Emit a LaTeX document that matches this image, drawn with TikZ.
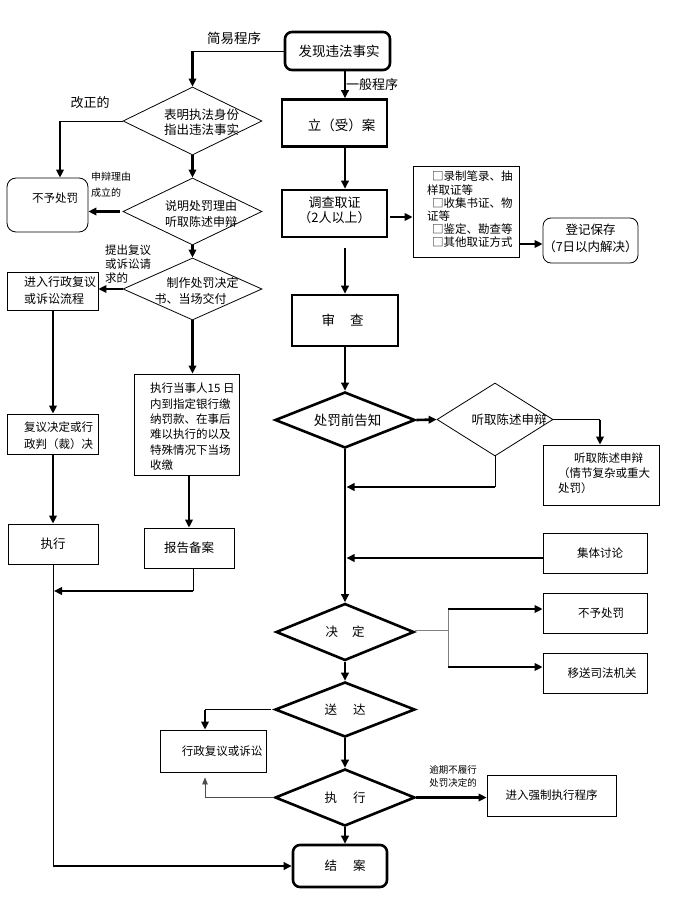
\documentclass[tikz,border=0pt]{standalone}
\usepackage{fontspec}
\setmainfont{Noto Sans CJK SC}
\usetikzlibrary{arrows.meta,shapes.geometric}
\newcommand\fA{\fontsize{13.5}{16}\selectfont}
\newcommand\fB{\fontsize{12.5}{15.5}\selectfont}
\newcommand\fC{\fontsize{11.5}{15}\selectfont}
\newcommand\fD{\fontsize{9.5}{13}\selectfont}
\begin{document}
\begin{tikzpicture}[x=1pt,y=-1pt,
  thk/.style={line width=2.6pt},
  thn/.style={line width=0.8pt},
  arr/.style={-{Triangle[length=8pt,width=7.5pt]}},
  tbox/.style={draw,thk,inner sep=0pt,align=center},
  nbox/.style={draw,thn,inner sep=0pt,align=center},
  tdia/.style={draw,diamond,thk,inner sep=0pt},
  ndia/.style={draw,diamond,thn,inner sep=0pt},
  lab/.style={inner sep=0pt,align=center,font=\fB},
  txt/.style={inner sep=0pt,align=left}]
\path[fill=white] (0,0) rectangle (675,917);
\useasboundingbox (0,0) rectangle (675,917);
\coordinate (ax) at (345,0);
\coordinate (lx) at (53,0);
% ---------- right column nodes ----------
\node[tbox,rounded corners=7pt,minimum width=105pt,minimum height=38pt,
  label={[lab,font=\fA,xshift=1.5pt]center:发现违法事实}] (find) at (337.5,51) {};
\node[tbox,minimum width=105pt,minimum height=47pt,
  label={[lab,font=\fA,xshift=7pt,yshift=-2pt]center:立（受）案}] (lian) at (334.5,123) {};
\node[tbox,minimum width=105pt,minimum height=47pt,
  label={[lab,font=\fontsize{13}{15}\selectfont,yshift=3pt]center:调查取证\\（2人以上）}] (dc) at (334.5,213.5) {};
\node[nbox,minimum width=106pt,minimum height=91pt] (ev) at (466,211.5) {};
\node[txt,anchor=north west,font=\fontsize{11.5}{13.2}\selectfont] (evt) at (427,171)
  {\hspace{5pt}□录制笔录、抽\\样取证等\\\hspace{5pt}□收集书证、物\\证等\\\hspace{5pt}□鉴定、勘查等\\\hspace{5pt}□其他取证方式};
\node[nbox,rounded corners=8pt,minimum width=95pt,minimum height=45pt,
  label={[lab,font=\fontsize{12.5}{17}\selectfont,yshift=2pt]center:登记保存\\（7日以内解决）}] (dj) at (590.5,240.5) {};
\node[tbox,minimum width=106pt,minimum height=51pt,
  label={[lab,font=\fA,xshift=-2.5pt]center:审\hspace{15pt}查}] (sc) at (345,320.5) {};
\node[tdia,minimum width=140pt,minimum height=56pt,
  label={[lab,font=\fA,xshift=2.5pt]center:处罚前告知}] (gz) at (345,420) {};
\node[ndia,minimum width=116pt,minimum height=73pt,
  label={[lab,xshift=14pt]center:听取陈述申辩}] (tq) at (495,419.5) {};
\node[nbox,minimum width=116pt,minimum height=60pt] (tqb) at (601,475) {};
\node[txt,anchor=north west,font=\fontsize{11.5}{15}\selectfont] (tqbt) at (558,453)
  {\hspace{16pt}听取陈述申辩\\（情节复杂或重大\\处罚）};
\node[nbox,minimum width=104pt,minimum height=40pt,
  label={[lab,font=\fC,xshift=5pt]center:集体讨论}] (jt) at (595,553) {};
\node[tdia,minimum width=138pt,minimum height=57pt,
  label={[lab]center:决\hspace{14pt}定}] (jd) at (345,632) {};
\node[nbox,minimum width=104pt,minimum height=40pt,
  label={[lab,font=\fC,xshift=6pt]center:不予处罚}] (byr) at (595,613) {};
\node[nbox,minimum width=104pt,minimum height=40pt,
  label={[lab,font=\fC,xshift=7pt]center:移送司法机关}] (ys) at (595,673) {};
\node[tdia,minimum width=140pt,minimum height=55pt,
  label={[lab]center:送\hspace{16pt}达}] (sd) at (345,709.5) {};
\node[nbox,minimum width=106pt,minimum height=42pt,
  label={[lab,font=\fC,xshift=9pt]center:行政复议或诉讼}] (xz) at (213,751) {};
\node[tdia,minimum width=140pt,minimum height=57pt,
  label={[lab]center:执\hspace{16pt}行}] (zx) at (345,797.5) {};
\node[nbox,minimum width=129pt,minimum height=41pt,
  label={[lab,font=\fC]center:进入强制执行程序}] (qz) at (551.5,795.5) {};
\node[tbox,rounded corners=7pt,minimum width=94pt,minimum height=42pt,
  label={[lab,xshift=5pt]center:结\hspace{16pt}案}] (ja) at (340,866) {};
% ---------- left column nodes ----------
\node[ndia,minimum width=139pt,minimum height=68pt,
  label={[lab,font=\fontsize{12.5}{15}\selectfont,xshift=9pt,yshift=-1.5pt]center:表明执法身份\\指出违法事实}] (d1) at (192.5,121) {};
\node[nbox,rounded corners=9pt,minimum width=81pt,minimum height=54pt,
  label={[lab,font=\fC,xshift=7.5pt,yshift=7pt]center:不予处罚}] (byl) at (47.5,205) {};
\node[ndia,minimum width=139pt,minimum height=67pt,
  label={[lab,font=\fontsize{12}{16}\selectfont,xshift=8.5pt,yshift=-2.5pt]center:说明处罚理由\\听取陈述申辩}] (d2) at (192.5,211.5) {};
\node[ndia,minimum width=139pt,minimum height=62pt,
  label={[lab,align=left,font=\fontsize{12}{16}\selectfont,xshift=4pt,yshift=-2pt]center:\hspace{12pt}制作处罚决定\\书、当场交付}] (d3) at (192.5,289) {};
\node[nbox,minimum width=91pt,minimum height=38pt] (jr) at (52.5,291) {};
\node[txt,anchor=west,font=\fontsize{12}{17}\selectfont] (jrt) at (24,290) {进入行政复议\\或诉讼流程};
\node[nbox,minimum width=91pt,minimum height=40pt] (fy) at (52.5,434) {};
\node[txt,anchor=west,font=\fontsize{11.5}{17}\selectfont] (fyt) at (24,436) {复议决定或行\\政判（裁）决};
\node[nbox,minimum width=90pt,minimum height=40pt,
  label={[lab]center:执行}] (zxl) at (53,544) {};
\node[nbox,minimum width=105pt,minimum height=101pt] (zxd) at (186.5,424.5) {};
\node[txt,anchor=north west,font=\fontsize{11.5}{15.3}\selectfont] (zxdt) at (150,383)
  {执行当事人15 日\\内到指定银行缴\\纳罚款、在事后\\难以执行的以及\\特殊情况下当场\\收缴};
\node[nbox,minimum width=90pt,minimum height=40pt,
  label={[lab]center:报告备案}] (bg) at (189,548) {};
% ---------- free labels ----------
\node[inner sep=0pt,font=\fA] (l1) at (234,38) {简易程序};
\node[inner sep=0pt,font=\fontsize{13}{15}\selectfont,anchor=west] (l2) at (346,85) {一般程序};
\node[inner sep=0pt,font=\fontsize{13}{15}\selectfont] (l3) at (90,103) {改正的};
\node[txt,anchor=west,font=\fontsize{10}{16}\selectfont] (l4) at (91,185) {申辩理由\\成立的};
\node[txt,anchor=north west,font=\fontsize{11.5}{14}\selectfont] (l5) at (105,245) {提出复议\\或诉讼请\\求的};
\node[txt,font=\fD] (l6) at (453,776) {逾期不履行\\处罚决定的};
% ---------- connectors: left ----------
\coordinate (c1) at (192.5,51);
\draw[thn] (find.west) -- (c1);
\draw[thk,arr] (c1) -- (d1.north);
\coordinate (c2) at (60,121);
\draw[thn] (d1.west) -- (c2);
\draw[line width=2pt,arr] (c2) -- (c2 |- byl.north);
\draw[thk,arr] (d1.south) -- (d2.north);
\draw[thk,arr,shorten <=3pt] (d2.west) -- (d2.west -| byl.east);
\draw[thk,arr] (d2.south) -- (d3.north);
\draw[thk,arr] (d3.west) -- (d3.west -| jr.east);
\draw[thk,arr] (d3.south) -- (d3.south |- zxd.north);
\draw[thk,arr] (zxd.south -| bg.north) -- (bg.north);
\coordinate (c3) at (193,591);
\coordinate (c4) at (53,591);
\draw[thn] (bg.south -| c3) -- (c3);
\draw[thk,arr,shorten >=1pt] (c3) -- (c4);
\draw[thk,arr] (jr.south -| lx) -- (fy.north -| lx);
\draw[thk,arr] (fy.south -| lx) -- (zxl.north -| lx);
\coordinate (c5) at (53,866);
\draw[thn] (zxl.south -| lx) -- (c5);
\draw[thk,arr] (c5) -- (ja.west);
% ---------- connectors: right ----------
\draw[thk,arr] (find.south -| ax) -- (lian.north -| ax);
\draw[thk,arr] (lian.south -| ax) -- (dc.north -| ax);
\coordinate (ey) at (0,217);
\draw[thk,arr,shorten <=2pt] (dc.east |- ey) -- (ev.west |- ey);
\coordinate (ey2) at (0,244);
\draw[thk,arr] (ev.east |- ey2) -- (dj.west |- ey2);
\draw[thk,arr,shorten <=10pt] (dc.south -| ax) -- (sc.north -| ax);
\draw[thk,arr] (sc.south -| ax) -- (gz.north);
\draw[thk,arr] (gz.east) -- (tq.west);
\coordinate (c6) at (600,419.5);
\draw[thn] (tq.east) -- (c6);
\draw[thk,arr] (c6) -- (c6 |- tqb.north);
\coordinate (c7) at (495,487);
\draw[thn] (tq.south) -- (c7);
\draw[thk,arr,shorten >=1.5pt] (c7) -- (c7 -| ax);
\draw[thk,arr] (gz.south) -- (jd.north);
\coordinate (c8) at (345,558);
\draw[thk,arr,shorten >=1.5pt] (jt.west |- c8) -- (c8);
\coordinate (c9) at (448,630);
\coordinate (c10) at (448,609);
\coordinate (c11) at (448,667);
\draw[thn,gray] (jd.east |- c9) -- (c9);
\draw[thn,gray] (c10) -- (c11);
\draw[thk,arr] (c10) -- (c10 -| byr.west);
\draw[thk,arr] (c11) -- (c11 -| ys.west);
\draw[thk,arr] (jd.south) -- (sd.north);
\coordinate (c12) at (205,709.5);
\draw[thn,shorten <=3pt] (sd.west) -- (c12);
\draw[thk,arr] (c12) -- (c12 |- xz.north);
\draw[thk,arr] (sd.south) -- (zx.north);
\coordinate (c13) at (205,797.5);
\draw[thn,black!70] (zx.west) -- (c13);
\draw[thn,black!70,-{Triangle[length=7pt,width=5.5pt]},shorten >=5pt] (c13) -- (c13 |- xz.south);
\draw[thk,arr] (zx.east) -- (zx.east -| qz.west);
\draw[thk,arr] (zx.south) -- (zx.south |- ja.north);
\end{tikzpicture}
\end{document}
